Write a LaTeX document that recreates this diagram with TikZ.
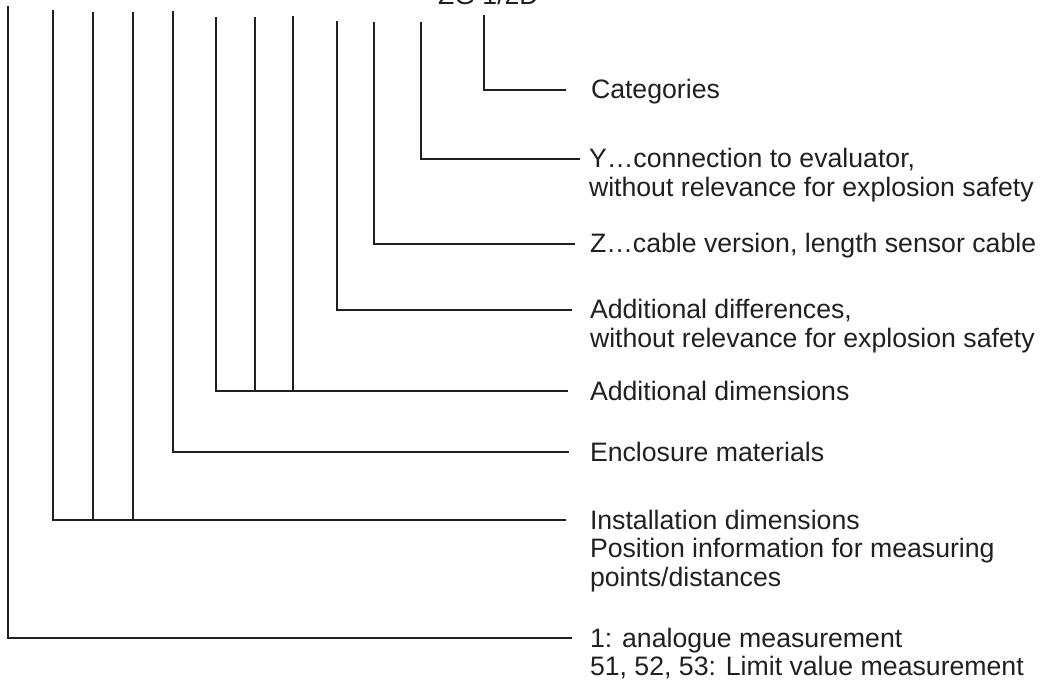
\documentclass[tikz,border=0pt]{standalone}
\usepackage{fontspec}
\setmainfont{Liberation Sans}
\usepackage{tikz}
\usepackage{xcolor}
\usetikzlibrary{calc}
\definecolor{inkgray}{HTML}{231F20}
\newcommand{\lblfont}{\fontsize{20}{21.6}\selectfont}
\newcommand{\lbllines}[1]{\begin{tabular}[t]{@{}l@{}}#1\end{tabular}}

\begin{document}
\begin{tikzpicture}[x=0.75pt,y=-0.75pt,line width=1.5pt,
  every node/.style={font=\lblfont,text=inkgray},
  lbl/.style={anchor=base west,inner sep=0pt},
  lead/.style={draw=inkgray,line width=1.5pt}]
\useasboundingbox (0,0) rectangle (1040,688);
\node[lbl] (code) at (437,5) {ZG 1/2D};
\coordinate (meas top) at (8,6);
\coordinate (inst a) at (53,10);
\coordinate (inst b) at (93,12);
\coordinate (inst c) at (133,12);
\coordinate (encl top) at (173,11);
\coordinate (adim a) at (216,17);
\coordinate (adim b) at (255,17);
\coordinate (adim c) at (293,16);
\coordinate (adiff top) at (337,21);
\coordinate (zcab top) at (374,22);
\coordinate (ycon top) at (421,22);
\coordinate (cat top) at (484,15);
\node[lbl] (cat) at (590,99) {Categories};
\node[lbl] (ycon) at (588,168) {\lbllines{Y…connection to evaluator,\\without relevance for explosion safety}};
\node[lbl] (zcab) at (589,253) {Z…cable version, length sensor cable};
\node[lbl] (adiff) at (589,319) {\lbllines{Additional differences,\\without relevance for explosion safety}};
\node[lbl] (adim) at (589,400) {Additional dimensions};
\node[lbl] (encl) at (589,461) {Enclosure materials};
\node[lbl] (inst) at (589,529) {\lbllines{Installation dimensions\\Position information for measuring\\points/distances}};
\node[lbl] (meas) at (589,647) {\lbllines{1: analogue measurement\\51, 52, 53: Limit value measurement}};
\draw[lead] (cat top) |- ($(cat.base west)+(-24,-9)$);
\draw[lead] (ycon top) |- ($(ycon.base west)+(-8,-9)$);
\draw[lead] (zcab top) |- ($(zcab.base west)+(-14,-9)$);
\draw[lead] (adiff top) |- ($(adiff.base west)+(-17,-9)$);
\draw[lead] (adim a) |- ($(adim.base west)+(-21,-9)$);
\draw[lead] (adim b) -- (adim b |- {$(adim.base west)+(0,-9)$});
\draw[lead] (adim c) -- (adim c |- {$(adim.base west)+(0,-9)$});
\draw[lead] (encl top) |- ($(encl.base west)+(-20,-9)$);
\draw[lead] (inst a) |- ($(inst.base west)+(-23,-9)$);
\draw[lead] (inst b) -- (inst b |- {$(inst.base west)+(0,-9)$});
\draw[lead] (inst c) -- (inst c |- {$(inst.base west)+(0,-9)$});
\draw[lead] (meas top) |- ($(meas.base west)+(-17,-9)$);
\end{tikzpicture}
\end{document}
